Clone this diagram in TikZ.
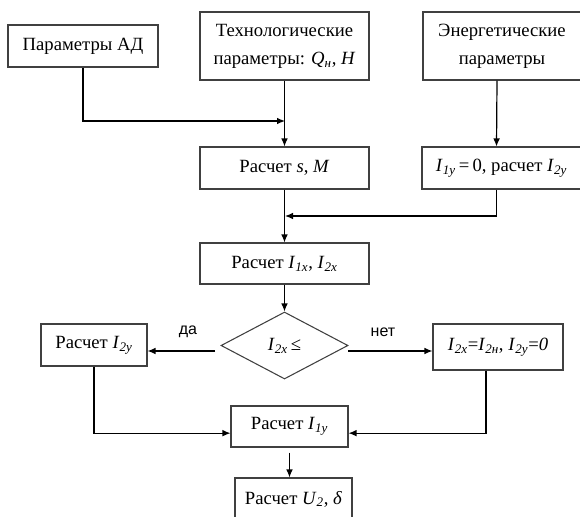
\documentclass[tikz,border=0pt]{standalone}
\usepackage{fontspec}
\setmainfont{Liberation Serif}
\newfontfamily\labelfont{Liberation Sans}
\usetikzlibrary{arrows.meta, shapes.geometric}
\begin{document}
\begin{tikzpicture}[
                x = 0.75pt, y = -0.75pt,
                box/.style = {draw = black!75, line width = 0.8pt, rectangle, inner sep = 0mm, align = center, font = \fontsize{14}{21}\selectfont},
                cond/.style = {draw = black!75, line width = 0.8pt, diamond, aspect = 1.9, inner sep = 0mm, font = \fontsize{14}{21}\selectfont},
                lbl/.style = {font = \labelfont\fontsize{12}{14}\selectfont},
                arr/.style = {draw, line width = 0.9pt, -{Latex[length = 6pt, width = 5pt]}},
            ]
            \useasboundingbox (0, 0) rectangle (580, 516);
            \clip (0, 0) rectangle (580, 516);

            \node (params) at (83, 46) [box, minimum width = 112.5pt, minimum height = 31.5pt] {Параметры АД};
            \node (tech) at (284.5, 46) [box, minimum width = 126.75pt, minimum height = 51pt] {Технологические\\параметры: \textit{Q}\textsubscript{\textit{н}}, \textit{H}};
            \node (energy) at (502, 46) [box, minimum width = 118.5pt, minimum height = 51pt] {Энергетические\\параметры};

            \node (sM) at (284.5, 168) [box, minimum width = 126.75pt, minimum height = 31.5pt] {Расчет \textit{s}, \textit{M}};
            \node (Iy0) at (501.5, 168) [box, minimum width = 119.25pt, minimum height = 31.5pt] {\textit{I}\textsubscript{\textit{1y}}\,=\,0, расчет \textit{I}\textsubscript{\textit{2y}}};

            \node (Ix) at (284.5, 263.5) [box, minimum width = 126.75pt, minimum height = 30.75pt] {Расчет \textit{I}\textsubscript{\textit{1x}}, \textit{I}\textsubscript{\textit{2x}}};

            \node (dia) at (284.5, 345.5) [cond, minimum width = 95.25pt, minimum height = 50.25pt] {\textit{I}\textsubscript{\textit{2x}}\,≤};
            \node (yes) at (94, 345) [box, minimum width = 79.5pt, minimum height = 31.5pt] {Расчет \textit{I}\textsubscript{\textit{2y}}};
            \node (no) at (498, 347) [box, minimum width = 97.5pt, minimum height = 34.5pt] {\textit{I}\textsubscript{\textit{2x}}=\textit{I}\textsubscript{\textit{2н}}, \textit{I}\textsubscript{\textit{2y}}=\textit{0}};

            \node (Iy) at (289.5, 426.5) [box, minimum width = 87.75pt, minimum height = 30.75pt] {Расчет \textit{I}\textsubscript{\textit{1y}}};
            \node (U) at (293.5, 499) [box, minimum width = 87.75pt, minimum height = 31.5pt] {Расчет \textit{U}\textsubscript{\textit{2}}, \textit{δ}};

            \node (da) at (188, 332) [lbl] {да};
            \node (net) at (383, 332) [lbl] {нет};

            \coordinate (j1) at (285, 121);
            \coordinate (j2) at (285, 216);
            \coordinate (left) at (215, 351);
            \coordinate (right) at (348, 351);

            \path[arr] (params.south) |- (j1);
            \path[arr] (tech.south) -- (sM.north);
            \path[arr] ([xshift = -3.75pt]energy.south) -- ([xshift = -3.75pt]Iy0.north);
            \path[arr] ([xshift = -3.75pt]Iy0.south) |- (j2);
            \path[arr] (sM.south) -- (Ix.north);
            \path[arr] (Ix.south) -- (dia.north);
            \path[arr] (left) -- (left -| yes.east);
            \path[arr] (right) -- (right -| no.west);
            \path[arr] (yes.south) |- ([yshift = -5pt]Iy.west);
            \path[arr] ([xshift = -9pt]no.south) |- ([yshift = -5pt]Iy.east);
            \path[arr, shorten <= 3.75pt] (Iy.south) -- (Iy.south |- U.north);
        \end{tikzpicture}
\end{document}
